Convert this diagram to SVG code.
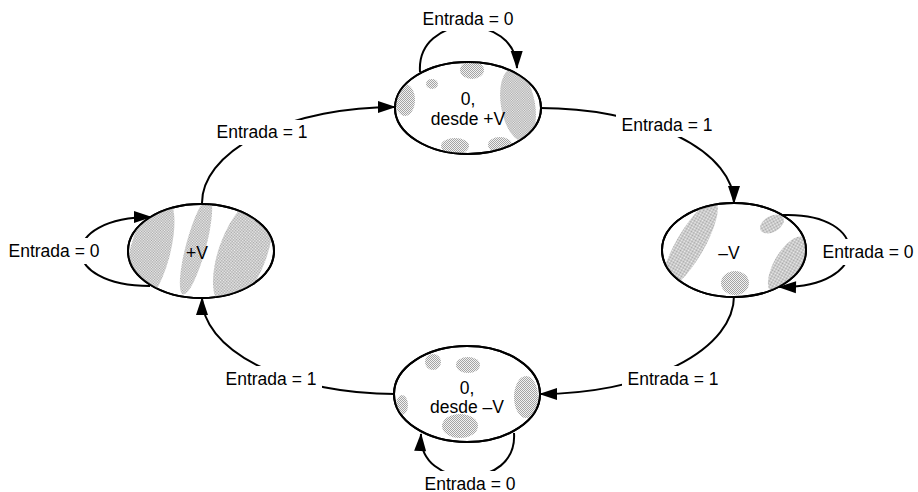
<svg xmlns="http://www.w3.org/2000/svg" width="918" height="492" viewBox="0 0 918 492">
<style>
  .node { fill: #ffffff; stroke: #000; stroke-width: 2; }
  .outline { fill: none; stroke: #000; stroke-width: 2; }
  .patch { fill: url(#stip); stroke: none; }
  .edge { fill: none; stroke: #000; stroke-width: 2; }
  .arr { marker-end: url(#ah); }
  .lbg { fill: #ffffff; stroke: none; }
  text { font-family: "Liberation Sans", Arial, sans-serif; font-size: 17.5px; fill: #000; text-anchor: middle; }
</style>
<defs>
  <pattern id="stip" width="2" height="2" patternUnits="userSpaceOnUse">
    <rect width="2" height="2" fill="#f2f2f2"/>
    <rect width="1" height="1" fill="#a4a4a4"/>
    <rect x="1" y="1" width="1" height="1" fill="#a4a4a4"/>
  </pattern>
  <marker id="ah" markerUnits="userSpaceOnUse" markerWidth="18" markerHeight="12" refX="17" refY="6" orient="auto" overflow="visible">
    <path d="M0,0 L18,6 L0,12 z" fill="#000"/>
  </marker>
  <clipPath id="cTop"><ellipse cx="468" cy="108" rx="73" ry="46"/></clipPath>
  <clipPath id="cLeft"><ellipse cx="201" cy="251" rx="73" ry="47"/></clipPath>
  <clipPath id="cRight"><ellipse cx="734" cy="250" rx="72" ry="47"/></clipPath>
  <clipPath id="cBot"><ellipse cx="467" cy="394" rx="73" ry="48"/></clipPath>
</defs>

<g id="connectors">
  <path class="edge arr" d="M202,204 A193,96 0 0 1 395,107"/>
  <path class="edge arr" d="M540,108 A194,95 0 0 1 734,203"/>
  <path class="edge arr" d="M734,296 A194,98 0 0 1 540,394"/>
  <path class="edge arr" d="M395,394 A193,96 0 0 1 202,298"/>
  <path class="edge arr" d="M420,72 C416,12 516,12 517,68"/>
  <path class="edge arr" d="M150,286 C58,286 58,217 151,217"/>
  <path class="edge arr" d="M783,215 C872,212 872,289 779,287"/>
  <path class="edge arr" d="M514,433 C518,491 418,491 421,434"/>

  <rect class="lbg" x="211" y="120" width="102" height="25"/>
  <text x="262" y="138">Entrada = 1</text>
  <rect class="lbg" x="616" y="112" width="102" height="25"/>
  <text x="667" y="131">Entrada = 1</text>
  <rect class="lbg" x="622" y="366" width="102" height="25"/>
  <text x="673" y="385">Entrada = 1</text>
  <rect class="lbg" x="220" y="366" width="102" height="25"/>
  <text x="271" y="385">Entrada = 1</text>

  <rect class="lbg" x="417" y="5" width="102" height="26"/>
  <text x="468" y="24.5">Entrada = 0</text>
  <rect class="lbg" x="4" y="238" width="100" height="26"/>
  <text x="54" y="257">Entrada = 0</text>
  <rect class="lbg" x="818" y="239" width="100" height="26"/>
  <text x="868" y="258">Entrada = 0</text>
  <rect class="lbg" x="419" y="471" width="102" height="21"/>
  <text x="470" y="489.5">Entrada = 0</text>
</g>

<g id="node-top">
  <ellipse class="node" cx="468" cy="108" rx="73" ry="46"/>
  <g clip-path="url(#cTop)">
    <ellipse class="patch" cx="518" cy="105" rx="17" ry="37" transform="rotate(-10 518 105)"/>
    <ellipse class="patch" cx="472" cy="70" rx="12" ry="9"/>
    <ellipse class="patch" cx="405" cy="100" rx="10" ry="16"/>
    <ellipse class="patch" cx="455" cy="146" rx="14" ry="8"/>
    <ellipse class="patch" cx="500" cy="145" rx="12" ry="8"/>
    <ellipse class="patch" cx="432" cy="84" rx="6" ry="5"/>
  </g>
  <ellipse class="outline" cx="468" cy="108" rx="73" ry="46"/>
  <text x="468" y="105">0,</text>
  <text x="468" y="124.5">desde +V</text>
</g>

<g id="node-left">
  <ellipse class="node" cx="201" cy="251" rx="73" ry="47"/>
  <g clip-path="url(#cLeft)">
    <ellipse class="patch" cx="150" cy="252" rx="20" ry="58" transform="rotate(15 150 252)"/>
    <ellipse class="patch" cx="196" cy="246" rx="10" ry="50" transform="rotate(15 196 246)"/>
    <ellipse class="patch" cx="243" cy="252" rx="24" ry="58" transform="rotate(20 243 252)"/>
  </g>
  <ellipse class="outline" cx="201" cy="251" rx="73" ry="47"/>
  <text x="197" y="259">+V</text>
</g>

<g id="node-right">
  <ellipse class="node" cx="734" cy="250" rx="72" ry="47"/>
  <g clip-path="url(#cRight)">
    <ellipse class="patch" cx="690" cy="245" rx="14" ry="50" transform="rotate(30 690 245)"/>
    <ellipse class="patch" cx="772" cy="224" rx="13" ry="8" transform="rotate(-30 772 224)"/>
    <ellipse class="patch" cx="788" cy="265" rx="14" ry="32" transform="rotate(30 788 265)"/>
    <ellipse class="patch" cx="735" cy="283" rx="14" ry="12"/>
  </g>
  <ellipse class="outline" cx="734" cy="250" rx="72" ry="47"/>
  <text x="729" y="259">–V</text>
</g>

<g id="node-bottom">
  <ellipse class="node" cx="467" cy="394" rx="73" ry="48"/>
  <g clip-path="url(#cBot)">
    <ellipse class="patch" cx="433" cy="362" rx="8" ry="8"/>
    <ellipse class="patch" cx="468" cy="365" rx="12" ry="8"/>
    <ellipse class="patch" cx="526" cy="397" rx="12" ry="21"/>
    <ellipse class="patch" cx="460" cy="426" rx="18" ry="12"/>
    <ellipse class="patch" cx="402" cy="405" rx="6" ry="10"/>
  </g>
  <ellipse class="outline" cx="467" cy="394" rx="73" ry="48"/>
  <text x="467" y="394">0,</text>
  <text x="467" y="412.5">desde –V</text>
</g>
</svg>
